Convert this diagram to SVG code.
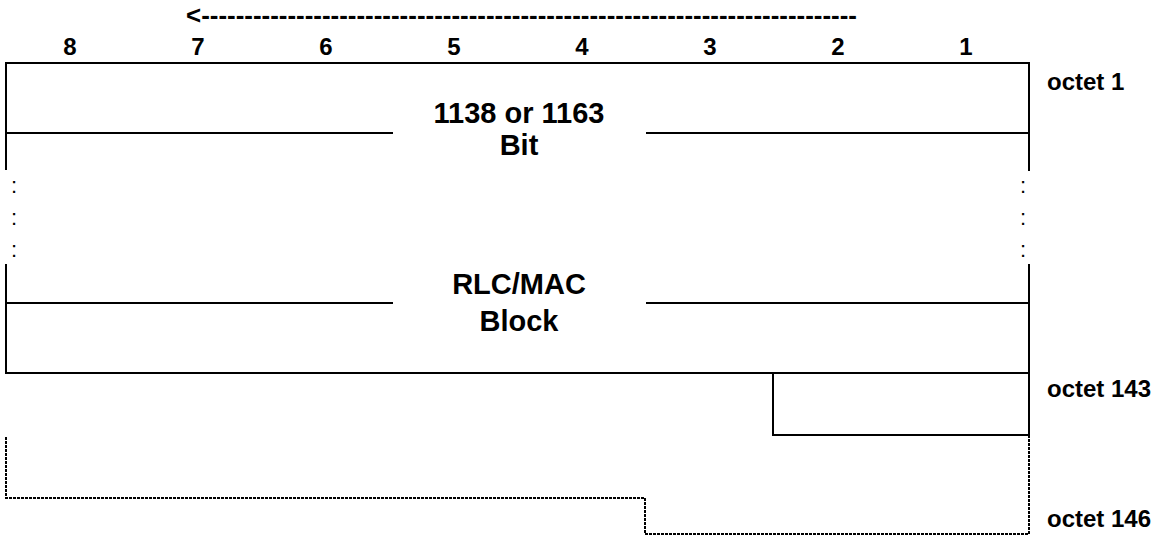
<svg xmlns="http://www.w3.org/2000/svg" width="1158" height="536" viewBox="0 0 1158 536">
<style>
.ln{stroke:#000;stroke-width:2;fill:none;stroke-linecap:square}
.dt{stroke:#000;stroke-width:2;fill:none;stroke-dasharray:3 1}
.b{font-family:"Liberation Sans",Arial,sans-serif;font-weight:bold;fill:#000}
.lbl{font-size:24px}
.arr{font-size:26px}
.ctr{font-size:29px;text-anchor:middle}
.dig{font-size:24px;text-anchor:middle}
.col{font-family:"Liberation Sans",Arial,sans-serif;font-size:22px;fill:#000}
</style>
<rect width="1158" height="536" fill="#fff"/>
<g id="header">
<text class="b arr" x="186" y="24" textLength="671" lengthAdjust="spacingAndGlyphs">&lt;----------------------------------------------------------------------------</text>
<text class="b dig" x="70" y="55">8</text>
<text class="b dig" x="198" y="55">7</text>
<text class="b dig" x="326" y="55">6</text>
<text class="b dig" x="454" y="55">5</text>
<text class="b dig" x="582" y="55">4</text>
<text class="b dig" x="710" y="55">3</text>
<text class="b dig" x="838" y="55">2</text>
<text class="b dig" x="966" y="55">1</text>
</g>
<g id="connectors">
<path class="ln" d="M6 63 H1029 M6 63 V169 M1029 63 V170 M6 133 H392 M647 133 H1029 M6 265 V373 M1029 265 V435 M6 303 H392 M647 303 H1029 M6 373 H1029 M773 373 V435 H1029"/>
<path class="dt" d="M1029 435 V534 H645 V498 H6 V437"/>
</g>
<g id="block">
<text class="b ctr" x="519" y="123">1138 or 1163</text>
<text class="b ctr" x="519" y="155">Bit</text>
<text class="b ctr" x="519" y="294">RLC/MAC</text>
<text class="b ctr" x="519" y="331">Block</text>
</g>
<g id="continuation">
<text class="col" x="11" y="193">:</text>
<text class="col" x="11" y="225">:</text>
<text class="col" x="11" y="257">:</text>
<text class="col" x="1020" y="193">:</text>
<text class="col" x="1020" y="225">:</text>
<text class="col" x="1020" y="257">:</text>
</g>
<g id="labels">
<text class="b lbl" x="1047" y="90">octet 1</text>
<text class="b lbl" x="1047" y="397">octet 143</text>
<text class="b lbl" x="1047" y="527">octet 146</text>
</g>
</svg>
